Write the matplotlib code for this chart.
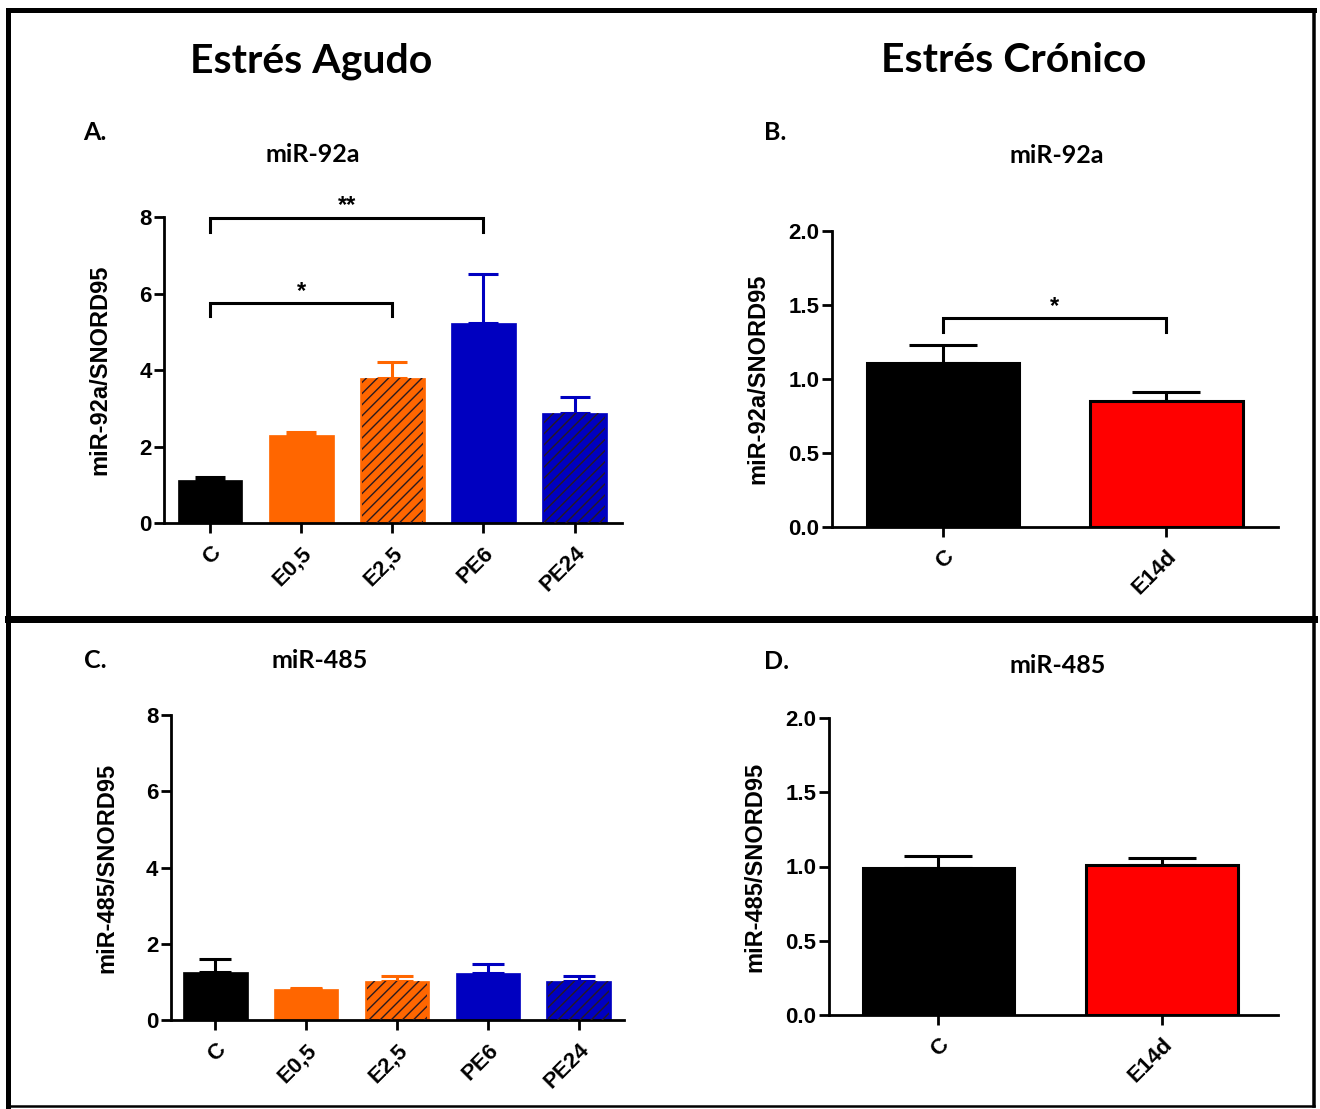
import matplotlib
matplotlib.use("Agg")
import matplotlib.pyplot as plt
from matplotlib.lines import Line2D

# ---------------- data ----------------
acute_groups = ["C", "E0,5", "E2,5", "PE6", "PE24"]
chronic_groups = ["C", "E14d"]

mir92a_acute_mean = [1.12, 2.30, 3.78, 5.24, 2.87]
mir92a_acute_err = [0.07, 0.09, 0.44, 1.27, 0.43]

mir92a_chronic_mean = [1.11, 0.85]
mir92a_chronic_err = [0.12, 0.06]

mir485_acute_mean = [1.27, 0.82, 1.03, 1.23, 1.03]
mir485_acute_err = [0.33, 0.03, 0.12, 0.25, 0.13]

mir485_chronic_mean = [0.99, 1.01]
mir485_chronic_err = [0.08, 0.05]

acute_colors = ["#000000", "#FF6600", "#FF6600", "#0000C0", "#0000C0"]
acute_hatch = [None, None, "///", None, "///"]
chronic_colors = ["#000000", "#FF0000"]

W, H = 1320, 1109
DPI = 100
plt.rcParams["hatch.linewidth"] = 1.0
AXFONT = ["Liberation Sans", "DejaVu Sans"]
TFONT = ["Lato", "DejaVu Sans"]

fig = plt.figure(figsize=(W / DPI, H / DPI), dpi=DPI)
fig.patch.set_facecolor("white")


def px_axes(left, right, bottom, top):
    return fig.add_axes([left / W, 1 - bottom / H, (right - left) / W, (bottom - top) / H])


def style_axes(ax, ylim, yticks, yfmt, labels, xlim, ylabel, lpad):
    ax.set_ylim(*ylim)
    ax.set_xlim(*xlim)
    ax.set_yticks(yticks)
    ax.set_yticklabels([yfmt.format(v) for v in yticks], fontfamily=AXFONT,
                       fontweight="bold", fontsize=16)
    ax.set_xticks(range(len(labels)))
    ax.set_xticklabels(labels, rotation=45, ha="right", va="top",
                       rotation_mode="anchor", fontfamily=AXFONT,
                       fontweight="bold", fontsize=16)
    for s in ["top", "right"]:
        ax.spines[s].set_visible(False)
    for s in ["left", "bottom"]:
        ax.spines[s].set_linewidth(2.0)
    ax.tick_params(axis="both", width=2.0, length=7, direction="out")
    ax.tick_params(axis="x", pad=7)
    ax.tick_params(axis="y", pad=2)
    ax.set_ylabel(ylabel, fontfamily=AXFONT, fontweight="bold", fontsize=17, labelpad=lpad)


def acute_panel(ax, means, errs, width, capsize):
    x = list(range(len(means)))
    for i, (m, e) in enumerate(zip(means, errs)):
        ax.errorbar(x[i], m, yerr=[[0], [e]], color=acute_colors[i], elinewidth=2.2,
                    capsize=capsize, capthick=2.2, zorder=1, fmt="none")
    ax.bar(x, means, width=width, color=acute_colors, edgecolor=acute_colors,
           linewidth=0.5, zorder=2)
    for i, h in enumerate(acute_hatch):
        if h:
            ax.bar(x[i], means[i], width=width * 0.94, facecolor="none",
                   edgecolor="#2a1a20", hatch=h, linewidth=0, zorder=3)


def chronic_panel(ax, means, errs, width, capsize):
    x = list(range(len(means)))
    for i, (m, e) in enumerate(zip(means, errs)):
        ax.errorbar(x[i], m, yerr=[[0], [e]], color="black", elinewidth=2.2,
                    capsize=capsize, capthick=2.2, zorder=1, fmt="none")
    ax.bar(x, means, width=width, color=chronic_colors, edgecolor="black",
           linewidth=2.2, zorder=2)


def bracket(ax, x1, x2, y, ylow, text, ty):
    ax.plot([x1, x1, x2, x2], [ylow, y, y, ylow], color="black", lw=2.2,
            clip_on=False, zorder=5, solid_joinstyle="miter")
    ax.text((x1 + x2) / 2, ty, text, ha="center", va="center", fontsize=17,
            fontweight="bold", fontfamily=AXFONT, clip_on=False)


# Panel A
axA = px_axes(164, 622, 523, 217)
acute_panel(axA, mir92a_acute_mean, mir92a_acute_err, 0.71, 11)
style_axes(axA, (0, 8), [0, 2, 4, 6, 8], "{:.0f}", acute_groups, (-0.505, 4.52),
           "miR-92a/SNORD95", 20)
bracket(axA, 0, 3, 7.98, 7.62, "**", 8.3)
bracket(axA, 0, 2, 5.76, 5.4, "*", 6.05)

# Panel B
axB = px_axes(832, 1278, 527, 231)
chronic_panel(axB, mir92a_chronic_mean, mir92a_chronic_err, 0.683, 24.5)
style_axes(axB, (0, 2), [0, 0.5, 1.0, 1.5, 2.0], "{:.1f}", chronic_groups, (-0.497, 1.50),
           "miR-92a/SNORD95", 14)
bracket(axB, 0, 1, 1.41, 1.32, "*", 1.49)

# Panel C
axC = px_axes(171, 624, 1020, 715)
acute_panel(axC, mir485_acute_mean, mir485_acute_err, 0.71, 11.5)
style_axes(axC, (0, 8), [0, 2, 4, 6, 8], "{:.0f}", acute_groups, (-0.49, 4.50),
           "miR-485/SNORD95", 20)

# Panel D
axD = px_axes(829, 1278, 1015, 718)
chronic_panel(axD, mir485_chronic_mean, mir485_chronic_err, 0.68, 24.5)
style_axes(axD, (0, 2), [0, 0.5, 1.0, 1.5, 2.0], "{:.1f}", chronic_groups, (-0.49, 1.52),
           "miR-485/SNORD95", 14)


# ---------------- texts ----------------
def ftext(xp, yp, s, size, ha="center"):
    fig.text(xp / W, 1 - yp / H, s, ha=ha, va="baseline", fontsize=size,
             fontweight="bold", fontfamily=TFONT)


ftext(311, 72, "Estrés Agudo", 29.5)
ftext(1014, 72, "Estrés Crónico", 29.5)
ftext(83, 140, "A.", 18, ha="left")
ftext(313, 162, "miR-92a", 18)
ftext(764, 140, "B.", 18, ha="left")
ftext(1057, 163, "miR-92a", 18)
ftext(84, 668, "C.", 18, ha="left")
ftext(320, 668, "miR-485", 18)
ftext(764, 669, "D.", 18, ha="left")
ftext(1058, 673, "miR-485", 18)


# ---------------- borders ----------------
def fline(x1, y1, x2, y2, wpx):
    fig.add_artist(Line2D([x1 / W, x2 / W], [1 - y1 / H, 1 - y2 / H],
                          transform=fig.transFigure, color="black",
                          linewidth=wpx * 72 / DPI, solid_capstyle="projecting"))


fline(7.5, 9.5, 1314, 9.5, 5)      # top
fline(7.5, 9.5, 7.5, 1106, 5)      # left
fline(1314, 9.5, 1314, 1106, 3.5)  # right
fline(7.5, 1106, 1314, 1106, 2.5)  # bottom
fline(7.5, 618.5, 1314, 618.5, 7)  # middle divider

fig.savefig("out.png", dpi=DPI, facecolor="white")
